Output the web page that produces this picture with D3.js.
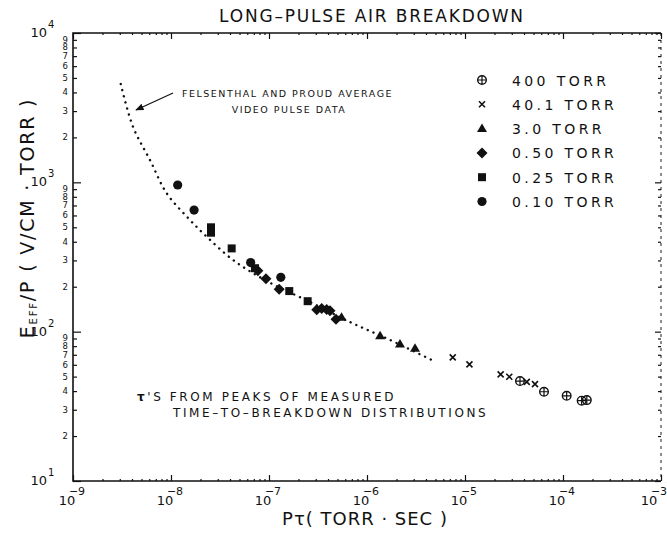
<!DOCTYPE html>
<html>
<head>
<meta charset="utf-8">
<script src="https://cdn.jsdelivr.net/npm/d3@7"></script>
<style>
  body { margin: 0; background: #fff; }
  text { font-family: "DejaVu Sans", sans-serif; fill: #111; }
</style>
</head>
<body>
<script>
// values: P*tau (torr sec) vs Eeff/P (V/cm torr)
const torr400  = [[3.64e-5, 46.7], [6.4e-5, 39.6], [1.09e-4, 37.2], [1.55e-4, 34.5], [1.75e-4, 34.8]];
const torr40   = [[7.5e-6, 67.3], [1.11e-5, 60.4], [2.31e-5, 51.8], [2.83e-5, 49.9], [4.27e-5, 46.1], [5.18e-5, 44.5]];
const torr3    = [[5.5e-7, 125], [1.36e-6, 94], [2.17e-6, 82.6], [3.09e-6, 77.3]];
const torr050  = [[7.7e-8, 256], [9.3e-8, 226], [1.27e-7, 192], [3.07e-7, 140], [3.45e-7, 143], [3.88e-7, 141], [4.19e-7, 138], [4.83e-7, 121]];
const torr025  = [[2.56e-8, 500], [2.56e-8, 460], [4.16e-8, 361], [7.2e-8, 266], [1.61e-7, 187], [2.48e-7, 160]];
const torr010  = [[1.17e-8, 960], [1.72e-8, 652], [6.5e-8, 290], [1.32e-7, 231]];
// Felsenthal & Proud average curve
const fpCurve  = [[3.07e-9, 4550], [4.09e-9, 2360], [6.1e-9, 1410], [9.0e-9, 848], [1.45e-8, 589],
                  [2.31e-8, 433], [4.3e-8, 302], [9.3e-8, 220], [2.62e-7, 158], [6.7e-7, 116],
                  [1.72e-6, 88], [4.71e-6, 64]];

const legendNames = ["400 TORR", "40.1 TORR", "3.0 TORR", "0.50 TORR", "0.25 TORR", "0.10 TORR"];
const legendShapes = ["oplus", "times", "triangle", "diamond", "square", "circle"];
const xDecades = [-9, -8, -7, -6, -5, -4, -3];
const yDecades = [1, 2, 3, 4];

const W = 667, H = 541;
const margin = {top: 33, right: 6, bottom: 60, left: 73};
const width = W - margin.left - margin.right,
      height = H - margin.top - margin.bottom;

const svg = d3.select("body").append("svg")
    .attr("width", W)
    .attr("height", H);

const g = svg.append("g")
    .attr("transform", "translate(" + margin.left + "," + margin.top + ")");

const xScale = d3.scaleLog().domain([1e-9, 1e-3]).range([0, width]);
const yScale = d3.scaleLog().domain([10, 1e4]).range([height, 0]);

// all minor tick values
const xMinor = [], yMinor = [];
xDecades.slice(0, -1).forEach(function(e) {
    for (let m = 2; m <= 9; m++) xMinor.push(m * Math.pow(10, e));
});
yDecades.slice(0, -1).forEach(function(e) {
    for (let m = 2; m <= 9; m++) yMinor.push(m * Math.pow(10, e));
});
const xMajor = xDecades.map(function(e) { return Math.pow(10, e); });
const yMajor = yDecades.map(function(e) { return Math.pow(10, e); });

function styleAxis(sel) {
    sel.select(".domain").remove();
    sel.selectAll("line").attr("stroke", "#111").attr("stroke-width", 1.2);
}

// frame: left, top, bottom solid, right edge faint/dashed like the scan
g.append("path")
    .attr("d", "M" + width + ",0H0V" + height + "H" + width)
    .attr("fill", "none")
    .attr("stroke", "#111")
    .attr("stroke-width", 1.6);
g.append("line")
    .attr("x1", width).attr("x2", width)
    .attr("y1", 0).attr("y2", height)
    .attr("stroke", "#444")
    .attr("stroke-width", 1.2)
    .attr("stroke-dasharray", "3,4");

// bottom axis, ticks point inward
g.append("g").attr("transform", "translate(0," + height + ")")
    .call(d3.axisBottom(xScale).tickValues(xMajor).tickSize(-6).tickFormat(""))
    .call(styleAxis);
g.append("g").attr("transform", "translate(0," + height + ")")
    .call(d3.axisBottom(xScale).tickValues(xMinor).tickSize(-2).tickFormat(""))
    .call(styleAxis);
// top axis
g.append("g")
    .call(d3.axisTop(xScale).tickValues(xMajor).tickSize(-6).tickFormat(""))
    .call(styleAxis);
g.append("g")
    .call(d3.axisTop(xScale).tickValues(xMinor).tickSize(-2).tickFormat(""))
    .call(styleAxis);
// left axis
g.append("g")
    .call(d3.axisLeft(yScale).tickValues(yMajor).tickSize(-8).tickFormat(""))
    .call(styleAxis);
g.append("g")
    .call(d3.axisLeft(yScale).tickValues(yMinor).tickSize(-4).tickFormat(""))
    .call(styleAxis);
// right axis
g.append("g").attr("transform", "translate(" + width + ",0)")
    .call(d3.axisRight(yScale).tickValues(yMajor).tickSize(-6).tickFormat(""))
    .call(styleAxis);
g.append("g").attr("transform", "translate(" + width + ",0)")
    .call(d3.axisRight(yScale).tickValues(yMinor).tickSize(-3).tickFormat(""))
    .call(styleAxis);

// x decade labels
xDecades.forEach(function(e, i) {
    const shift = i === xDecades.length - 1 ? -6 : 0;
    g.append("text")
        .attr("x", xScale(Math.pow(10, e)) - 6 + shift)
        .attr("y", height + 24)
        .attr("text-anchor", "middle")
        .attr("font-size", "13px")
        .text("10");
    g.append("text")
        .attr("x", xScale(Math.pow(10, e)) + 4 + shift)
        .attr("y", height + 14)
        .attr("text-anchor", "middle")
        .attr("font-size", "11px")
        .text(String(e).replace("-", "\u2212"));
});

// y decade labels
yDecades.forEach(function(e) {
    g.append("text")
        .attr("x", -26)
        .attr("y", yScale(Math.pow(10, e)) + 4)
        .attr("text-anchor", "end")
        .attr("font-size", "13px")
        .text("10");
    g.append("text")
        .attr("x", -25)
        .attr("y", yScale(Math.pow(10, e)) - 5)
        .attr("text-anchor", "start")
        .attr("font-size", "10px")
        .text(e);
});

// y minor digit labels
g.selectAll(".ydigit")
    .data(yMinor)
    .enter()
    .append("text")
    .attr("class", "ydigit")
    .attr("x", -5)
    .attr("y", function(d) { return yScale(d) + 3; })
    .attr("text-anchor", "end")
    .attr("font-size", "8.5px")
    .text(function(d) { return Math.round(d / Math.pow(10, Math.floor(Math.log10(d) + 1e-9))); });

// titles
svg.append("text")
    .attr("x", 372)
    .attr("y", 22)
    .attr("text-anchor", "middle")
    .attr("font-size", "17px")
    .attr("letter-spacing", "1.8px")
    .text("LONG\u2013PULSE AIR BREAKDOWN");

svg.append("text")
    .attr("x", 365)
    .attr("y", 525)
    .attr("text-anchor", "middle")
    .attr("font-size", "18px")
    .attr("letter-spacing", "1px")
    .text("P\u03c4( TORR \u00b7 SEC )");

const yt = svg.append("text")
    .attr("text-anchor", "middle")
    .attr("transform", "translate(34,218)rotate(-90)")
    .attr("font-size", "19px")
    .attr("letter-spacing", "1.8px");
yt.append("tspan").text("E");
yt.append("tspan").attr("font-size", "10px").attr("dy", "3").text("EFF");
yt.append("tspan").attr("dy", "-3").text("/P ( V/CM \u00b7 TORR )");

// Felsenthal and Proud dotted curve
const line = d3.line()
    .x(function(d) { return xScale(d[0]); })
    .y(function(d) { return yScale(d[1]); })
    .curve(d3.curveCatmullRom);

g.append("path")
    .datum(fpCurve)
    .attr("d", line)
    .attr("fill", "none")
    .attr("stroke", "#111")
    .attr("stroke-width", 2.4)
    .attr("stroke-linecap", "round")
    .attr("stroke-dasharray", "0.1,6.2");

// markers
function drawMarker(sel, shape) {
    if (shape === "circle") {
        sel.append("circle").attr("r", 4.6).attr("fill", "#111");
    } else if (shape === "square") {
        sel.append("path").attr("d", d3.symbol(d3.symbolSquare, 64)).attr("fill", "#111");
    } else if (shape === "diamond") {
        sel.append("path").attr("d", "M0,-5.5L5.5,0L0,5.5L-5.5,0Z").attr("fill", "#111");
    } else if (shape === "triangle") {
        sel.append("path").attr("d", "M0,-5L5,3.5L-5,3.5Z").attr("fill", "#111");
    } else if (shape === "times") {
        sel.append("path").attr("d", "M-3,-3L3,3M-3,3L3,-3")
            .attr("stroke", "#111").attr("stroke-width", 1.6).attr("fill", "none");
    } else if (shape === "oplus") {
        sel.append("circle").attr("r", 4.3)
            .attr("fill", "none").attr("stroke", "#111").attr("stroke-width", 1.4);
        sel.append("path").attr("d", "M-4.3,0H4.3M0,-4.3V4.3")
            .attr("stroke", "#111").attr("stroke-width", 1.2);
    }
}

const seriesData = [torr400, torr40, torr3, torr050, torr025, torr010];
seriesData.forEach(function(pts, i) {
    g.selectAll(".s" + i)
        .data(pts)
        .enter()
        .append("g")
        .attr("class", "s" + i)
        .attr("transform", function(d) { return "translate(" + xScale(d[0]) + "," + yScale(d[1]) + ")"; })
        .each(function() { drawMarker(d3.select(this), legendShapes[i]); });
});

// legend
legendNames.forEach(function(name, i) {
    const yy = 80 + i * 24.3;
    const m = svg.append("g").attr("transform", "translate(482," + yy + ")");
    drawMarker(m, legendShapes[i]);
    svg.append("text")
        .attr("x", 512)
        .attr("y", yy + 5.5)
        .attr("font-size", "14px")
        .attr("letter-spacing", "3.4px")
        .text(name);
});

// annotations
svg.append("text")
    .attr("x", 182)
    .attr("y", 97)
    .attr("font-size", "9.5px")
    .attr("letter-spacing", "1.5px")
    .text("FELSENTHAL AND PROUD AVERAGE");
svg.append("text")
    .attr("x", 289)
    .attr("y", 113)
    .attr("text-anchor", "middle")
    .attr("font-size", "9.5px")
    .attr("letter-spacing", "1.5px")
    .text("VIDEO PULSE DATA");

svg.append("defs").append("marker")
    .attr("id", "arrow")
    .attr("viewBox", "0 0 10 10")
    .attr("refX", 9).attr("refY", 5)
    .attr("markerWidth", 7).attr("markerHeight", 7)
    .attr("orient", "auto")
    .append("path").attr("d", "M0,1L10,5L0,9Z").attr("fill", "#111");

svg.append("line")
    .attr("x1", 173).attr("y1", 93)
    .attr("x2", 136).attr("y2", 110)
    .attr("stroke", "#111").attr("stroke-width", 1.2)
    .attr("marker-end", "url(#arrow)");

const tau = svg.append("text")
    .attr("x", 137)
    .attr("y", 401)
    .attr("font-size", "12px")
    .attr("letter-spacing", "2.6px");
tau.append("tspan").attr("font-weight", "bold").text("\u03c4");
tau.append("tspan").text("'S FROM PEAKS OF MEASURED");
svg.append("text")
    .attr("x", 173)
    .attr("y", 417)
    .attr("font-size", "12px")
    .attr("letter-spacing", "2.6px")
    .text("TIME\u2013TO\u2013BREAKDOWN DISTRIBUTIONS");
</script>
</body>
</html>
